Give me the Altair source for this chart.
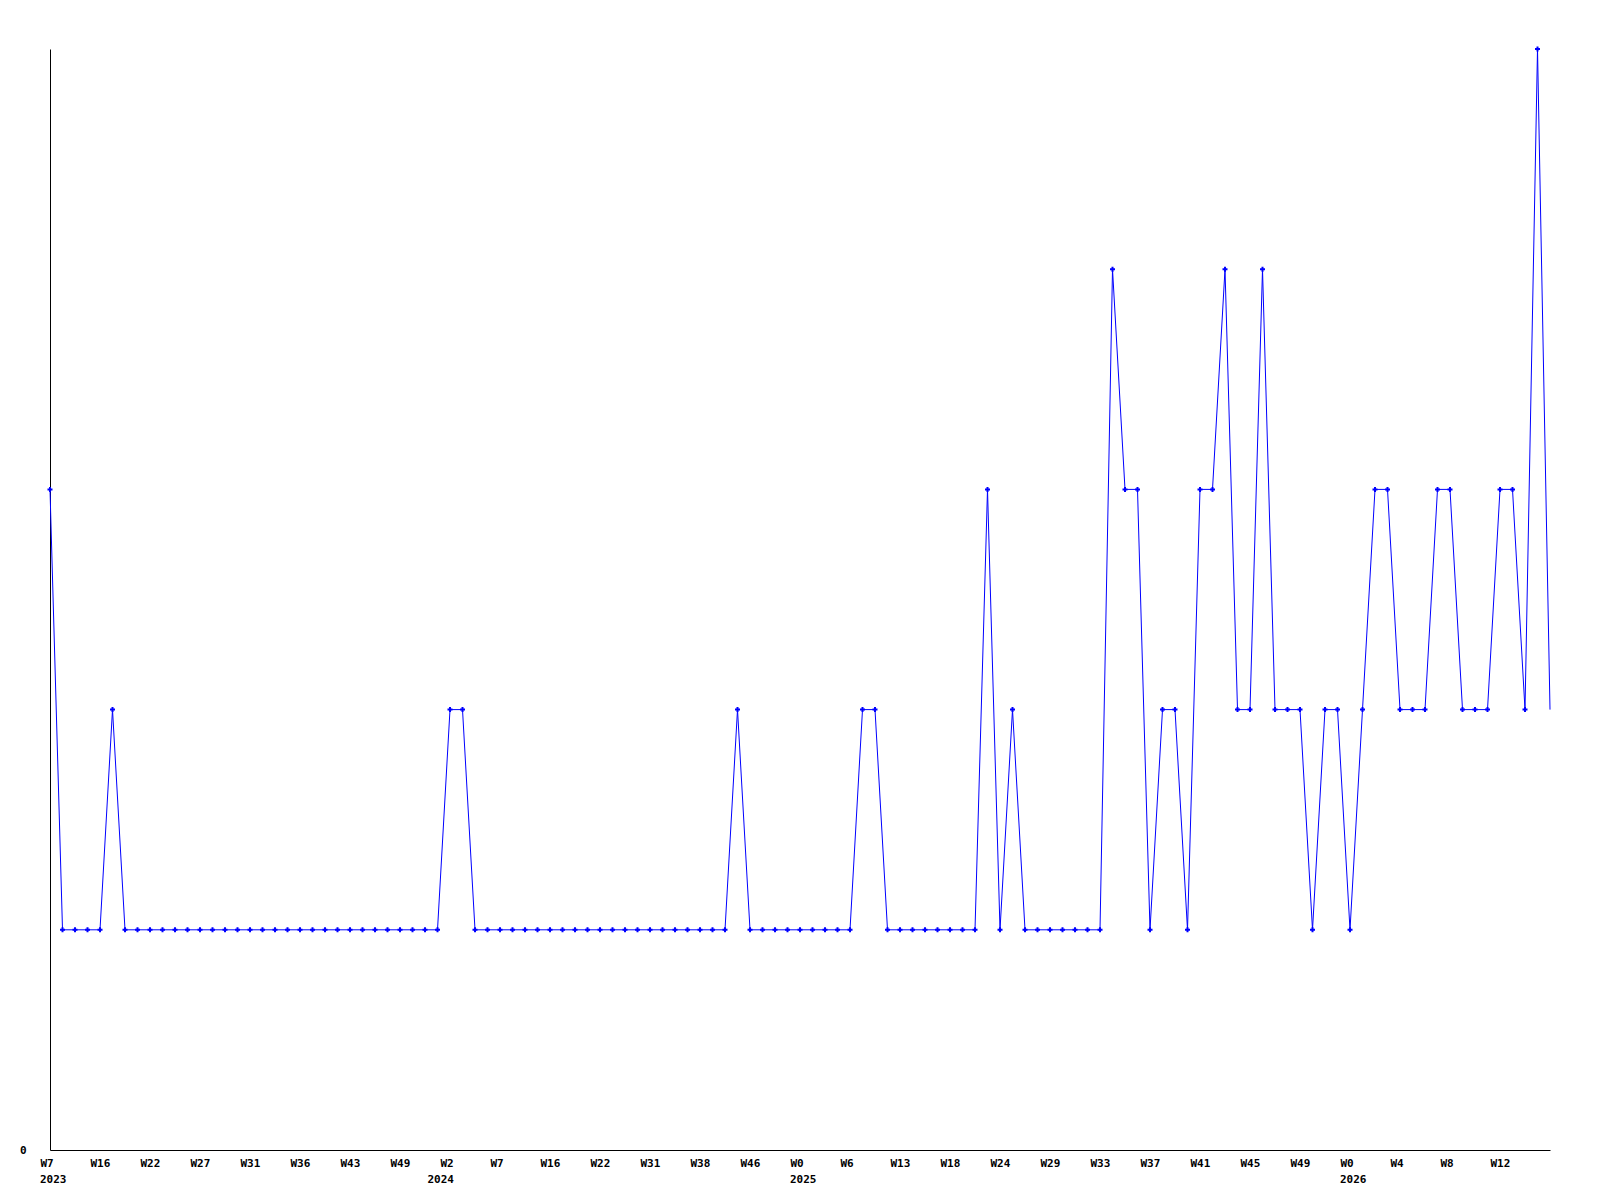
import altair as alt
import pandas as pd

# Weekly counts (index = week number in the series)
values = [
    3, 1, 1, 1, 1, 2, 1, 1, 1, 1,
    1, 1, 1, 1, 1, 1, 1, 1, 1, 1,
    1, 1, 1, 1, 1, 1, 1, 1, 1, 1,
    1, 1, 2, 2, 1, 1, 1, 1, 1, 1,
    1, 1, 1, 1, 1, 1, 1, 1, 1, 1,
    1, 1, 1, 1, 1, 2, 1, 1, 1, 1,
    1, 1, 1, 1, 1, 2, 2, 1, 1, 1,
    1, 1, 1, 1, 1, 3, 1, 2, 1, 1,
    1, 1, 1, 1, 1, 4, 3, 3, 1, 2,
    2, 1, 3, 3, 4, 2, 2, 4, 2, 2,
    2, 1, 2, 2, 1, 2, 3, 3, 2, 2,
    2, 3, 3, 2, 2, 2, 3, 3, 2, 5,
    2,
]

tick_index = [0, 4, 8, 12, 16, 20, 24, 28, 32, 36, 40, 44, 48, 52, 56,
              60, 64, 68, 72, 76, 80, 84, 88, 92, 96, 100, 104, 108, 112, 116]
week_labels = ["W7", "W16", "W22", "W27", "W31", "W36", "W43", "W49", "W2", "W7",
               "W16", "W22", "W31", "W38", "W46", "W0", "W6", "W13", "W18", "W24",
               "W29", "W33", "W37", "W41", "W45", "W49", "W0", "W4", "W8", "W12"]
year_labels = ["2023", "2024", "2025", "2026"]
year_index = [0, 31, 60, 104]

df = pd.DataFrame({"i": list(range(len(values))), "v": values})
years_df = pd.DataFrame({"i": year_index, "year": year_labels})

FONT = "DejaVu Sans Mono"
BLUE = "#0000FF"

label_map = dict(zip(tick_index, week_labels))
label_expr = "[" + ",".join(
    "'" + label_map.get(k, "") + "'" for k in range(0, max(tick_index) + 1)
) + "][datum.value]"

xscale = alt.Scale(domain=[0, len(values) - 1], nice=False, zero=False)
yscale = alt.Scale(domain=[0, 5], nice=False, zero=True)

x_axis = alt.Axis(
    values=tick_index, labelExpr=label_expr, title=None, grid=False,
    ticks=False, tickSize=0, domainColor="black", domainWidth=1,
    labelAlign="left", labelBaseline="alphabetic", labelOffset=-10,
    labelPadding=16, labelFont=FONT, labelFontWeight="bold", labelFontSize=11,
    labelColor="black", labelOverlap=False, labelFlush=False, labelBound=False,
)
y_axis = alt.Axis(
    values=[0], format="d", title=None, grid=False, ticks=False, tickSize=0,
    domainColor="black", domainWidth=1, labelPadding=24, labelFont=FONT,
    labelFontWeight="bold", labelFontSize=11, labelColor="black",
    labelBaseline="middle",
)

base = alt.Chart(df)

line = base.mark_line(color=BLUE, strokeWidth=1).encode(
    x=alt.X("i:Q", scale=xscale, axis=x_axis),
    y=alt.Y("v:Q", scale=yscale, axis=y_axis),
)

points = base.transform_filter("datum.i < 120").mark_point(
    shape="cross", filled=True, size=25, color=BLUE, opacity=1
).encode(
    x=alt.X("i:Q", scale=xscale),
    y=alt.Y("v:Q", scale=yscale),
)

years = alt.Chart(years_df).mark_text(
    align="left", baseline="alphabetic", dx=-10, font=FONT,
    fontWeight="bold", fontSize=11, color="black",
).encode(
    x=alt.X("i:Q", scale=xscale),
    y=alt.value(1134),
    text="year:N",
)

chart = alt.layer(line, points, years).properties(
    width=1500,
    height=1101,
    autosize=alt.AutoSizeParams(type="none"),
    padding={"left": 42, "top": 41, "right": 10, "bottom": 45},
    background="white",
).configure_view(stroke=None)

chart.save("out.html", embed_options={"renderer": "svg", "actions": False})
